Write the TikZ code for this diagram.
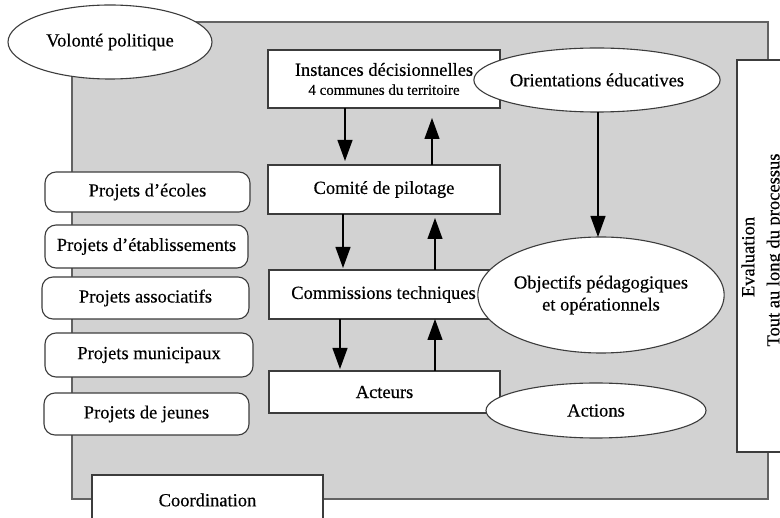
\documentclass[tikz,border=0pt]{standalone}
\usepackage{fontspec}
\setmainfont{Liberation Serif}[FakeBold=0.35]
\usetikzlibrary{shapes.geometric,arrows.meta}
\definecolor{bggray}{RGB}{210,210,210}
\definecolor{edge}{RGB}{60,60,60}
\tikzset{
  box/.style={draw=edge, line width=1.1pt, fill=white, rectangle, inner sep=0pt, outer sep=0pt, align=center, font=\fontsize{18.5}{22}\selectfont},
  oval/.style={draw=edge, line width=1.1pt, fill=white, ellipse, inner sep=0pt, outer sep=0pt, align=center, font=\fontsize{18.5}{22}\selectfont},
  proj/.style={draw=edge, line width=1.1pt, fill=white, rectangle, rounded corners=11pt, inner sep=0pt, outer sep=0pt, align=center, font=\fontsize{18.5}{22}\selectfont},
  arr/.style={draw=black, line width=1.1pt, -{Triangle[width=15pt,length=21pt]}},
  lbl/.style={inner sep=0pt, font=\fontsize{18.5}{22}\selectfont}
}
\begin{document}
\begin{tikzpicture}[x=1pt,y=-1pt]
\clip (0,0) rectangle (780,518);
\fill[white] (0,0) rectangle (780,518);
% background panel
\node[draw=edge!80, line width=1.1pt, fill=bggray, rectangle, inner sep=0pt, minimum width=696pt, minimum height=477pt] (bg) at (420,260.5) {};
% central boxes
\node[box, minimum width=232pt, minimum height=58pt] (inst) at (384,79)
  {Instances décisionnelles\\[-3pt]{\fontsize{15}{17}\selectfont 4 communes du territoire}};
\node[box, minimum width=232pt, minimum height=49pt] (comite) at (384,189.5) {Comité de pilotage};
\node[box, minimum width=229pt, minimum height=49pt] (comm) at (383.5,294.5) {Commissions techniques};
\node[box, minimum width=231pt, minimum height=42pt] (act) at (384.5,392) {Acteurs};
\node[box, minimum width=231pt, minimum height=50pt] (coord) at (207.5,500) {Coordination};
\node[box, minimum width=64pt, minimum height=392pt] (eval) at (769,256) {};
\node[lbl, rotate=90] (evalA) at (748,257) {Evaluation};
\node[lbl, rotate=90] (evalB) at (775,250) {Tout au long du processus};
% left project boxes
\node[proj, minimum width=205pt, minimum height=40pt] (ecoles) at (147.5,192) {Projets d'écoles};
\node[proj, minimum width=203pt, minimum height=43pt] (etab) at (146.5,246.5) {Projets d'établissements};
\node[proj, minimum width=207pt, minimum height=42pt] (assoc) at (145.5,298) {Projets associatifs};
\node[proj, minimum width=208pt, minimum height=44pt] (munic) at (149,355) {Projets municipaux};
\node[proj, minimum width=205pt, minimum height=42pt] (jeunes) at (146.5,414) {Projets de jeunes};
% ellipses
\node[oval, minimum width=204pt, minimum height=74pt] (volonte) at (110,42) {Volonté politique};
\node[oval, minimum width=222pt, minimum height=64pt] (orient) at (597,80) {Orientations éducatives};
\node[oval, minimum width=224pt, minimum height=116pt] (obj) at (601,295) {Objectifs pédagogiques\\et opérationnels};
\node[oval, minimum width=220pt, minimum height=55pt] (actions) at (596,410.5) {Actions};
% arrow columns
\coordinate (d1) at (345,0);
\coordinate (u1) at (432,0);
\coordinate (d2) at (343,0);
\coordinate (u2) at (435,0);
\coordinate (d3) at (340,0);
\coordinate (u3) at (435,0);
\coordinate (o1) at (598,0);
\draw[arr, shorten >=4pt] (inst.south -| d1) -- (comite.north -| d1);
\draw[arr, shorten >=10pt] (comite.north -| u1) -- (inst.south -| u1);
\draw[arr, shorten >=2pt] (comite.south -| d2) -- (comm.north -| d2);
\draw[arr, shorten >=4pt] (comm.north -| u2) -- (comite.south -| u2);
\draw[arr, shorten >=2pt] (comm.south -| d3) -- (act.north -| d3);
\draw[arr] (act.north -| u3) -- (comm.south -| u3);
\draw[arr] (orient.south -| o1) -- (obj.north -| o1);
\end{tikzpicture}
\end{document}
